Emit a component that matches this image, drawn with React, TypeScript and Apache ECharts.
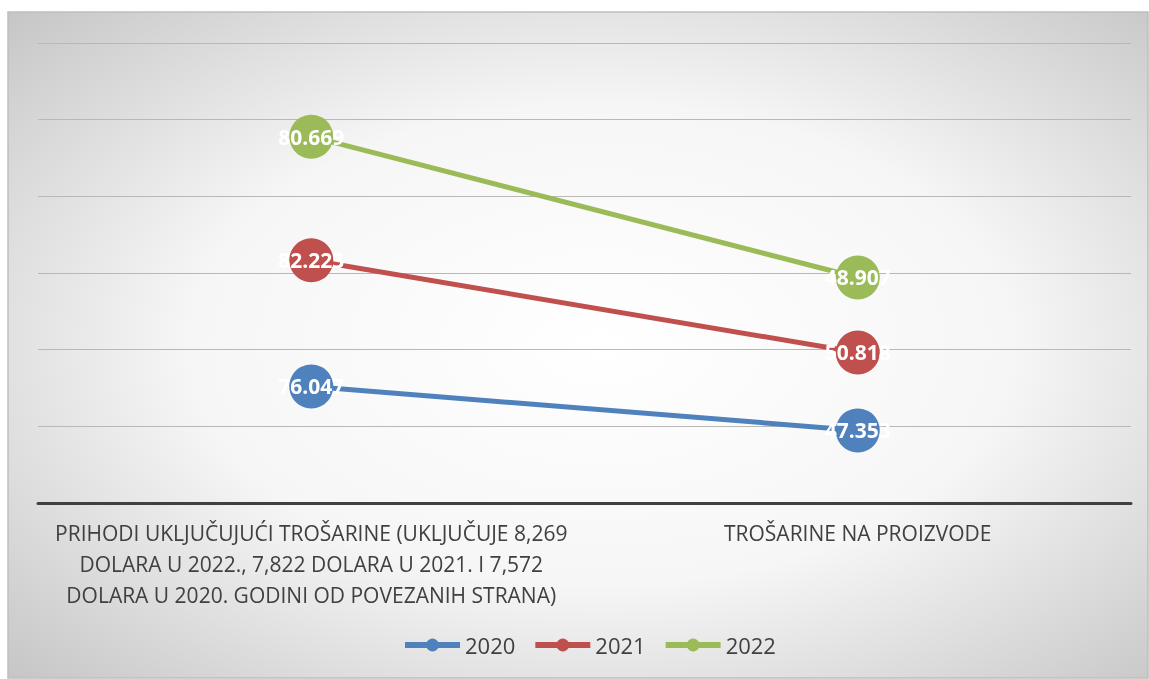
import React, { useEffect, useRef } from "react";
import * as echarts from "echarts";

const categories = [
  "PRIHODI UKLJUČUJUĆI TROŠARINE (UKLJUČUJE 8,269\nDOLARA U 2022., 7,822 DOLARA U 2021. I 7,572\nDOLARA U 2020. GODINI OD POVEZANIH STRANA)",
  "TROŠARINE NA PROIZVODE",
];
const seriesNames = ["2020", "2021", "2022"];
const values2020 = [76.047, 47.353];
const values2021 = [82.223, 50.818];
const values2022 = [80.669, 48.907];
const colors = ["#4F81BD", "#C0504D", "#9BBB59"];

export default function App() {
  const ref = useRef<HTMLDivElement>(null);
  useEffect(() => {
    if (!ref.current) return;
    const chart = echarts.init(ref.current, null, { renderer: "svg" });
    const data = [values2020, values2021, values2022];
    chart.setOption({
      animation: false,
      graphic: [
        {
          type: "rect",
          z: -10,
          silent: true,
          shape: { x: 8, y: 12, width: 1140, height: 666 },
          style: {
            fill: new echarts.graphic.RadialGradient(0.52, 0.5, 0.72, [
              { offset: 0, color: "#ffffff" },
              { offset: 0.5, color: "#f6f6f6" },
              { offset: 1, color: "#c6c6c6" },
            ]),
            stroke: "#bfbfbf",
            lineWidth: 1.5,
          },
        },
      ],
      grid: { left: 38, right: 18, top: 43, bottom: 176, containLabel: false },
      legend: {
        bottom: 18,
        left: 397,
        itemWidth: 55,
        itemHeight: 16,
        itemGap: 17,
        lineStyle: { width: 6 },
        textStyle: { color: "#404040", fontSize: 22, fontFamily: "Open Sans" },
        data: seriesNames,
      },
      xAxis: {
        type: "category",
        data: categories,
        boundaryGap: true,
        axisLine: { lineStyle: { color: "#404040", width: 3 } },
        axisTick: { show: false },
        axisLabel: {
          color: "#404040",
          fontSize: 21,
          fontFamily: "Open Sans",
          lineHeight: 31,
          margin: 14,
          interval: 0,
          verticalAlign: "top",
        },
      },
      yAxis: {
        type: "value",
        min: 0,
        max: 300,
        interval: 50,
        axisLabel: { show: false },
        axisLine: { show: false },
        axisTick: { show: false },
        splitLine: { lineStyle: { color: "#b8b8b8", width: 1 } },
      },
      series: seriesNames.map((name, i) => ({
        name,
        type: "line",
        stack: "total",
        data: data[i],
        color: colors[i],
        symbol: "circle",
        symbolSize: 44,
        lineStyle: { width: 5, color: colors[i] },
        itemStyle: { color: colors[i] },
        label: {
          show: true,
          position: "inside",
          color: "#ffffff",
          fontSize: 21,
          fontWeight: "bold",
          fontFamily: "Open Sans",
        },
      })),
    });
    return () => chart.dispose();
  }, []);
  return (
    <div
      ref={ref}
      style={{ position: "fixed", left: 0, top: 0, width: 1149, height: 679 }}
    />
  );
}
